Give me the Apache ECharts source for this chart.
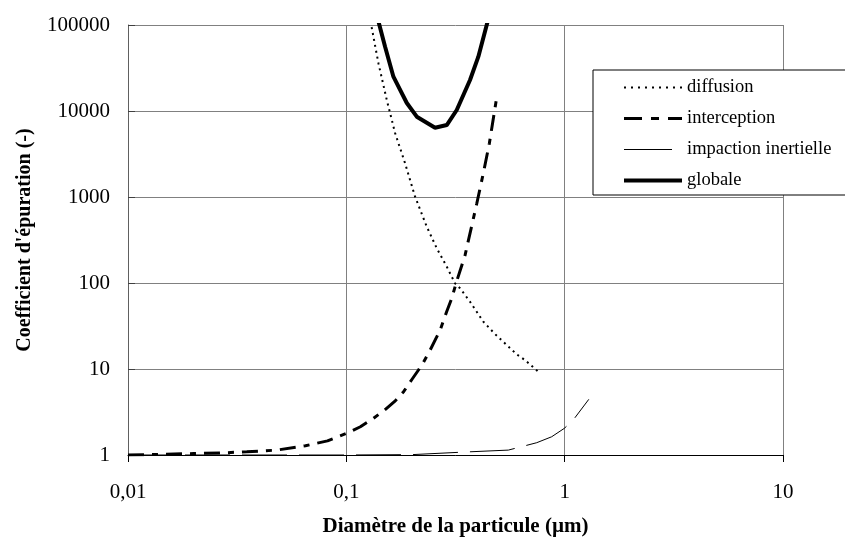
<!DOCTYPE html>
<html>
<head>
<meta charset="utf-8">
<script src="https://cdn.jsdelivr.net/npm/echarts@6/dist/echarts.min.js"></script>
<style>html,body{margin:0;padding:0;background:#fff}#c{width:845px;height:537px}</style>
</head>
<body>
<div id="c"></div>
<script>
// Diameter (µm) / coefficient pairs
const diffusionX = [0.128, 0.1308, 0.1403, 0.1532, 0.1672, 0.1858, 0.2065, 0.2336, 0.2596, 0.2884, 0.3147, 0.3317, 0.3686, 0.424, 0.4797, 0.5427, 0.603, 0.658, 0.757];
const diffusionY = [110000, 92300, 35880, 13430, 5550, 2465, 1008, 451, 253, 155, 99, 86.8, 60.6, 35.5, 25.5, 19.0, 14.8, 12.7, 9.3];

const interceptionX = [0.01, 0.015, 0.02, 0.0275, 0.035, 0.048, 0.065, 0.082, 0.1, 0.116, 0.133, 0.15, 0.168, 0.183, 0.2, 0.214, 0.222, 0.242, 0.269, 0.288, 0.304, 0.318, 0.35, 0.396, 0.424, 0.452, 0.489];
const interceptionY = [1.0, 1.02, 1.04, 1.06, 1.09, 1.14, 1.28, 1.46, 1.78, 2.13, 2.67, 3.34, 4.3, 5.45, 7.6, 9.74, 11.1, 16.6, 28.4, 46.4, 66.4, 99, 212, 845, 1886, 4211, 14700];

const impactionX = [0.01, 0.1, 0.2, 0.3686, 0.552, 0.745, 0.872, 0.996, 1.094, 1.29];
const impactionY = [1.0, 1.0, 1.01, 1.09, 1.14, 1.39, 1.63, 2.04, 2.55, 4.44];

const globaleX = [0.135, 0.1417, 0.1505, 0.1643, 0.1892, 0.2102, 0.2549, 0.2884, 0.3204, 0.3686, 0.4024, 0.4395, 0.45];
const globaleY = [160000, 100000, 55950, 25060, 12390, 8590, 6395, 6870, 10270, 22930, 42800, 100000, 125000];

const seriesNames = ['diffusion', 'interception', 'impaction inertielle', 'globale'];

const xTicks = [0.01, 0.1, 1, 10];
const yTicks = [1, 10, 100, 1000, 10000, 100000];

function pairs(xs, ys) { return xs.map((x, i) => [x, ys[i]]); }

const FONT = 'Liberation Serif';
const chart = echarts.init(document.getElementById('c'), null, { renderer: 'canvas' });
chart.setOption({
  backgroundColor: '#ffffff',
  animation: false,
  textStyle: { fontFamily: FONT, color: '#000' },
  grid: { left: 128, right: 62, top: 25, bottom: 82, containLabel: false, outerBoundsMode: 'none' },
  legend: {
    orient: 'vertical',
    left: 593,
    top: 70,
    backgroundColor: '#ffffff',
    borderColor: '#000',
    borderWidth: 1,
    borderRadius: 0,
    padding: [8, 40, 5, 29],
    itemWidth: 58,
    itemHeight: 14,
    itemGap: 12,
    itemStyle: { opacity: 0 },
    textStyle: { fontFamily: FONT, fontSize: 18.5, color: '#000', padding: [0, 0, 0, 0] },
    data: [
      { name: seriesNames[0], lineStyle: { width: 2, type: [2, 5] } },
      { name: seriesNames[1], lineStyle: { width: 3, type: [18, 9, 8, 9] } },
      { name: seriesNames[2], lineStyle: { width: 1, type: [48, 30] } },
      { name: seriesNames[3], lineStyle: { width: 4, type: 'solid' } }
    ]
  },
  xAxis: {
    type: 'log',
    logBase: 10,
    min: xTicks[0],
    max: xTicks[xTicks.length - 1],
    name: 'Diamètre de la particule (µm)',
    nameLocation: 'middle',
    nameGap: 61,
    nameTextStyle: { fontFamily: FONT, fontSize: 21, fontWeight: 'bold', color: '#000' },
    axisLine: { show: true, lineStyle: { color: '#000', width: 1 } },
    axisTick: { show: true, inside: false, length: 7, lineStyle: { color: '#000' } },
    axisLabel: {
      fontFamily: FONT, fontSize: 21, color: '#000', margin: 27,
      formatter: v => String(Number(v.toPrecision(6))).replace('.', ',')
    },
    splitLine: { show: true, lineStyle: { color: '#808080', width: 1 } },
    minorTick: { show: false },
    minorSplitLine: { show: false }
  },
  yAxis: {
    type: 'log',
    logBase: 10,
    min: yTicks[0],
    max: yTicks[yTicks.length - 1],
    name: "Coefficient d'épuration (-)",
    nameLocation: 'middle',
    nameGap: 93,
    nameRotate: 90,
    nameTextStyle: { fontFamily: FONT, fontSize: 20, fontWeight: 'bold', color: '#000' },
    axisLine: { show: true, lineStyle: { color: '#606060', width: 1 } },
    axisTick: { show: true, inside: true, length: 7, lineStyle: { color: '#404040' } },
    axisLabel: {
      fontFamily: FONT, fontSize: 21, color: '#000', margin: 18,
      formatter: v => String(Math.round(v))
    },
    splitLine: { show: true, lineStyle: { color: '#808080', width: 1 } }
  },
  series: [
    {
      name: seriesNames[0], type: 'line', symbol: 'none', smooth: false, z: 3,
      itemStyle: { color: '#000' },
      lineStyle: { color: '#000', width: 2, type: [2, 4] },
      data: pairs(diffusionX, diffusionY)
    },
    {
      name: seriesNames[1], type: 'line', symbol: 'none', smooth: false, z: 3,
      itemStyle: { color: '#000' },
      lineStyle: { color: '#000', width: 3, type: [16, 8, 6, 8] },
      data: pairs(interceptionX, interceptionY)
    },
    {
      name: seriesNames[2], type: 'line', symbol: 'none', smooth: false, z: 3,
      itemStyle: { color: '#000' },
      lineStyle: { color: '#000', width: 1, type: [45, 12] },
      data: pairs(impactionX, impactionY)
    },
    {
      name: seriesNames[3], type: 'line', symbol: 'none', smooth: false, z: 4,
      itemStyle: { color: '#000' },
      lineStyle: { color: '#000', width: 4, type: 'solid' },
      data: pairs(globaleX, globaleY)
    }
  ]
});
</script>
</body>
</html>
